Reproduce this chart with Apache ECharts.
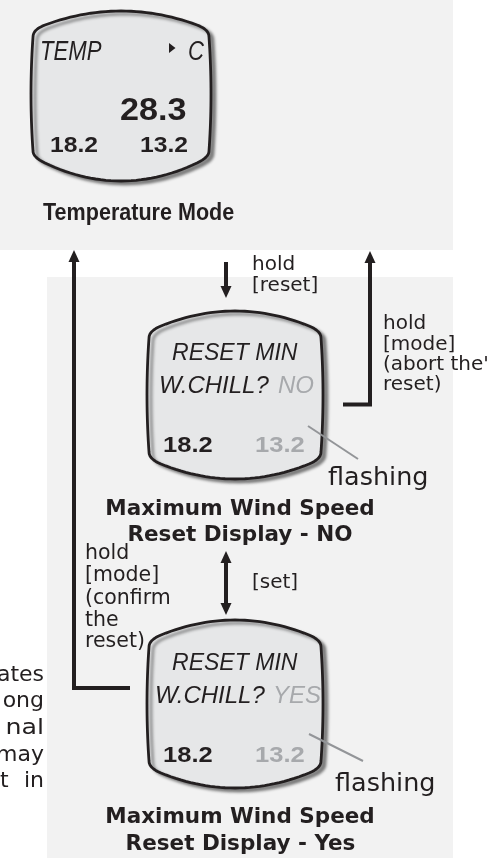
<!DOCTYPE html>
<html>
<head>
<meta charset="utf-8">
<script src="https://cdn.jsdelivr.net/npm/echarts@6/dist/echarts.min.js"></script>
<style>
html,body{margin:0;padding:0;background:#fff;}
#c{width:491px;height:858px;}
</style>
</head>
<body>
<div id="c"></div>
<script>
// ---- content (text) ----
const tempHeader = ['TEMP', 'C'];
const tempReading = ['28.3'];
const minMaxValues = ['18.2', '13.2'];
const resetPrompt = ['RESET MIN', 'W.CHILL?'];
const resetChoices = ['NO', 'YES'];
const modeTitles = ['Temperature Mode', 'Maximum Wind Speed', 'Reset Display - NO', 'Reset Display - Yes'];
const holdResetLabel = ['hold', '[reset]'];
const abortLabel = ['hold', '[mode]', "(abort the'", 'reset)'];
const confirmLabel = ['hold', '[mode]', '(confirm', 'the', 'reset)'];
const setLabel = ['[set]'];
const flashLabel = ['flashing'];
const sideFragments = ['ates', 'ong', 'nal', 'may', 'in'];
const sideLead = ['t'];

// ---- styling helpers ----
const INK = '#231f20', GREY = '#a7a9ac', LCD = '#e6e7e8', PANEL = '#f2f2f2';
const SANS = '"Liberation Sans", Arial, sans-serif';
const DJ = '"DejaVu Sans", sans-serif';

function txt(text, x, baseline, size, font, opts) {
  opts = opts || {};
  const align = opts.align || 'left';
  return {
    type: 'text',
    x: x, y: baseline - 0.346 * size,
    scaleX: opts.sx || 1, originX: 0, originY: 0,
    silent: true,
    style: {
      text: text, x: 0, y: 0,
      font: (opts.style || '') + ' ' + (opts.weight || 'normal') + ' ' + size + 'px ' + font,
      fill: opts.color || INK,
      align: align, textAlign: align,
      verticalAlign: 'middle', textVerticalAlign: 'middle'
    }
  };
}

// sample a quadratic bezier into points
function quad(pts, p0, c, p1, n) {
  for (let i = 1; i <= n; i++) {
    const t = i / n, u = 1 - t;
    pts.push([u * u * p0[0] + 2 * u * t * c[0] + t * t * p1[0], u * u * p0[1] + 2 * u * t * c[1] + t * t * p1[1]]);
  }
}
function lcdPoints(L, R, Tc, Tm, Bc, Bm, r, b) {
  const mx = (L + R) / 2, my = (Tc + Bc) / 2;
  const st = 2 * (Tc - Tm) / (R - r - mx);
  const sb = 2 * (Bm - Bc) / (R - r - mx);
  const pts = [[L + r, Tc]];
  quad(pts, [L + r, Tc], [mx, 2 * Tm - Tc], [R - r, Tc], 30);
  quad(pts, [R - r, Tc], [R, Tc + st * r], [R, Tc + r], 8);
  quad(pts, [R, Tc + r], [R + 2 * b, my], [R, Bc - r], 20);
  quad(pts, [R, Bc - r], [R, Bc - sb * r], [R - r, Bc], 8);
  quad(pts, [R - r, Bc], [mx, 2 * Bm - Bc], [L + r, Bc], 30);
  quad(pts, [L + r, Bc], [L, Bc - sb * r], [L, Bc - r], 8);
  quad(pts, [L, Bc - r], [L - 2 * b, my], [L, Tc + r], 20);
  quad(pts, [L, Tc + r], [L, Tc + st * r], [L + r, Tc], 8);
  pts.pop();
  return pts;
}

function lcd(L, R, Tc, Tm, Bc, Bm) {
  return {
    type: 'polygon', silent: true,
    shape: { points: lcdPoints(L, R, Tc, Tm, Bc, Bm, 12, 2) },
    style: {
      fill: LCD, stroke: INK, lineWidth: 2.8, lineJoin: 'round',
      shadowBlur: 3, shadowOffsetX: 4, shadowOffsetY: 3, shadowColor: 'rgba(0,0,0,0.4)'
    }
  };
}

function line(points, w, color) {
  return { type: 'polyline', silent: true, shape: { points: points },
    style: { stroke: color || INK, lineWidth: w, fill: null, lineCap: 'butt', lineJoin: 'miter' } };
}
function head(x, tipY, dir) {
  const by = tipY + dir * 12;
  return { type: 'polygon', silent: true,
    shape: { points: [[x, tipY], [x - 5.5, by], [x + 5.5, by]] },
    style: { fill: INK } };
}

const els = [];
// panels
els.push({ type: 'rect', silent: true, shape: { x: 0, y: 0, width: 453, height: 250 }, style: { fill: PANEL } });
els.push({ type: 'rect', silent: true, shape: { x: 47, y: 277, width: 406, height: 581 }, style: { fill: PANEL } });

// arrows
els.push(line([[130, 688], [74, 688], [74, 261]], 4));
els.push(head(74, 250, 1));
els.push(line([[343, 404.5], [370, 404.5], [370, 262]], 4));
els.push(head(370, 251, 1));
els.push(line([[226, 262], [226, 288]], 4));
els.push(head(226, 298, -1));
els.push(line([[226, 561], [226, 605]], 4));
els.push(head(226, 551, 1));
els.push(head(226, 615, -1));

// LCD screens
els.push(lcd(33, 209, 25, 11, 163, 181));
els.push(lcd(149, 321, 326, 311, 464, 479));
els.push(lcd(149, 321, 635, 620, 773, 788));

// pointer lines
els.push(line([[308, 426], [358, 459]], 2, '#939598'));
els.push(line([[309, 734], [363, 761]], 2, '#939598'));

// top LCD contents
els.push(txt(tempHeader[0], 40, 62, 27, SANS, { style: 'italic', sx: 0.82 }));
els.push({ type: 'polygon', silent: true, shape: { points: [[169, 43], [175.5, 48], [169, 53]] }, style: { fill: INK } });
els.push(txt(tempHeader[1], 188, 62, 27, SANS, { style: 'italic', sx: 0.82 }));
els.push(txt(tempReading[0], 120, 122, 30.5, SANS, { weight: 'bold', sx: 1.12 }));
els.push(txt(minMaxValues[0], 50, 154, 22, SANS, { weight: 'bold', sx: 1.12 }));
els.push(txt(minMaxValues[1], 140, 154, 22, SANS, { weight: 'bold', sx: 1.12 }));
els.push(txt(modeTitles[0], 43, 222, 24.5, SANS, { weight: 'bold', sx: 0.88 }));

// middle LCD (NO)
els.push(txt(resetPrompt[0], 172, 362, 24, SANS, { style: 'italic', sx: 0.96 }));
els.push(txt(resetPrompt[1], 159, 395, 24, SANS, { style: 'italic' }));
els.push(txt(resetChoices[0], 278, 395, 24, SANS, { style: 'italic', color: GREY }));
els.push(txt(minMaxValues[0], 163, 454, 22, SANS, { weight: 'bold', sx: 1.16 }));
els.push(txt(minMaxValues[1], 255, 454, 22, SANS, { weight: 'bold', sx: 1.16, color: GREY }));
els.push(txt(flashLabel[0], 328, 487, 24.5, DJ, { sx: 1.04 }));
els.push(txt(modeTitles[1], 240, 517, 21.5, DJ, { weight: 'bold', align: 'center' }));
els.push(txt(modeTitles[2], 240, 543, 21.5, DJ, { weight: 'bold', align: 'center' }));

// bottom LCD (YES)
els.push(txt(resetPrompt[0], 172, 672, 24, SANS, { style: 'italic', sx: 0.96 }));
els.push(txt(resetPrompt[1], 155, 705, 24, SANS, { style: 'italic' }));
els.push(txt(resetChoices[1], 273, 705, 24, SANS, { style: 'italic', color: GREY }));
els.push(txt(minMaxValues[0], 163, 764, 22, SANS, { weight: 'bold', sx: 1.16 }));
els.push(txt(minMaxValues[1], 255, 764, 22, SANS, { weight: 'bold', sx: 1.16, color: GREY }));
els.push(txt(flashLabel[0], 335, 793, 24.5, DJ, { sx: 1.04 }));
els.push(txt(modeTitles[1], 240, 825, 21.5, DJ, { weight: 'bold', align: 'center' }));
els.push(txt(modeTitles[3], 240.5, 852, 21.5, DJ, { weight: 'bold', align: 'center' }));

// action labels
holdResetLabel.forEach((t, i) => els.push(txt(t, 252, [272, 293][i], 20, DJ)));
abortLabel.forEach((t, i) => els.push(txt(t, 383, [331, 352, 372, 392][i], 20, DJ)));
confirmLabel.forEach((t, i) => els.push(txt(t, 85, [561, 583, 606, 628, 649][i], 20.5, DJ)));
els.push(txt(setLabel[0], 252, 590, 20, DJ));

// clipped text fragments at left edge
sideFragments.forEach((t, i) => els.push(txt(t, 44, [683, 709, 736, 763, 789][i], 22, DJ, { align: 'right', sx: i === 2 ? 1.15 : 1 })));
els.push(txt(sideLead[0], 0, 789, 22, DJ));

const chart = echarts.init(document.getElementById('c'), null, { renderer: 'canvas', width: 491, height: 858 });
chart.setOption({ backgroundColor: '#ffffff', animation: false, graphic: { elements: els } });
</script>
</body>
</html>
